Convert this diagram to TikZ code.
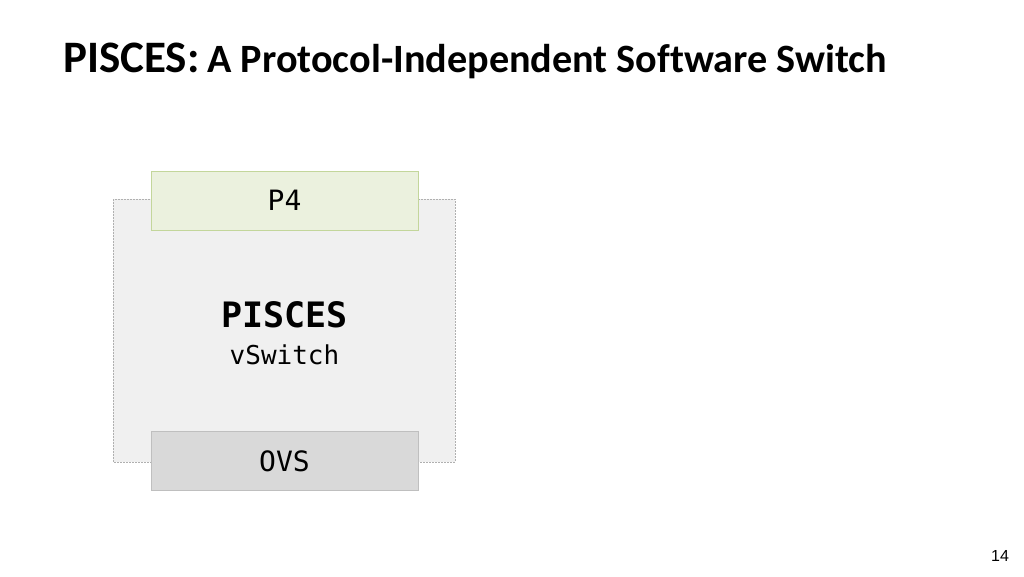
\documentclass[tikz,border=0pt]{standalone}
\usepackage{fontspec}
\setmainfont{Carlito}[Ligatures=NoCommon]
\newfontfamily\monofont{DejaVu Sans Mono}
\newfontfamily\numfont{Liberation Sans}
\definecolor{outerfill}{HTML}{F0F0F0}
\definecolor{outerdraw}{HTML}{B0B0B0}
\definecolor{pfourfill}{HTML}{EBF1DE}
\definecolor{pfourdraw}{HTML}{C3D69B}
\definecolor{ovsfill}{HTML}{D9D9D9}
\definecolor{ovsdraw}{HTML}{BFBFBF}
\tikzset{
  outerbox/.style={draw=outerdraw, fill=outerfill, dash pattern=on 2pt off 1pt, line width=0.8pt},
  layerbox/.style={line width=0.8pt, minimum width=267pt, minimum height=59pt, inner sep=0pt, font=\monofont\fontsize{28}{30}\selectfont},
}
\begin{document}
\begin{tikzpicture}[x=1pt,y=-1pt]
\useasboundingbox[fill=white] (0,0) rectangle (1024,576);
\node[anchor=base west, inner sep=0pt, font=\bfseries] (title) at (63,72)
  {{\fontsize{45}{50}\selectfont PISCES:}\hspace{8pt}{\fontsize{40.2}{44}\selectfont A Protocol-Independent Software Switch}};
\draw[outerbox] (113,199) rectangle (455,462);
\node[layerbox, draw=pfourdraw, fill=pfourfill] (p4) at (284.5,200.5) {P4};
\node[layerbox, draw=ovsdraw, fill=ovsfill] (ovs) at (284.5,461) {OVS};
\node[inner sep=0pt, anchor=base, font=\monofont\bfseries\fontsize{35}{38}\selectfont] (pisces) at (284.5,327) {PISCES};
\node[inner sep=0pt, anchor=base, font=\monofont\fontsize{26}{28}\selectfont] (vswitch) at (284.5,364) {vSwitch};
\node[inner sep=0pt, anchor=base, font=\numfont\fontsize{16}{18}\selectfont] (page) at (1000,561) {14};
\end{tikzpicture}
\end{document}
